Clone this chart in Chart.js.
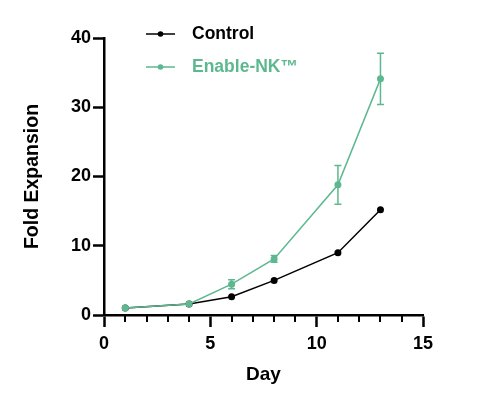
<!DOCTYPE html>
<html><head><meta charset="utf-8">
<script src="https://cdn.jsdelivr.net/npm/chart.js@4.4.1/dist/chart.umd.min.js"></script>
<style>html,body{margin:0;padding:0;background:#fff;overflow:hidden}canvas{display:block}</style>
</head><body>
<canvas id="c" width="487" height="407" style="width:487px;height:407px"></canvas>
<script>
const days = [1, 4, 6, 8, 11, 13];
const controlValues = [1.0, 1.6, 2.65, 5.0, 9.0, 15.2];
const enableValues = [1.0, 1.6, 4.45, 8.1, 18.8, 34.1];
const enableErrors = [0, 0, 0.65, 0.5, 2.8, 3.7];
const xTicks = [0, 5, 10, 15];
const xMinorTicks = [1, 2, 3, 4, 6, 7, 8, 9, 11, 12, 13, 14];
const yTicks = [0, 10, 20, 30, 40];
const seriesNames = ['Control', 'Enable-NK\u2122'];
const xTitle = 'Day';
const yTitle = 'Fold Expansion';

const BLACK = '#000000';
const GREEN = '#5db88f';
const FONT = '"Liberation Sans", Arial, Helvetica, sans-serif';

Chart.defaults.font.family = FONT;
Chart.defaults.color = BLACK;

const extras = {
  id: 'extras',
  afterDatasetsDraw(chart) {
    const ctx = chart.ctx;
    const xs = chart.scales.x, ys = chart.scales.y;
    // error bars
    ctx.save();
    ctx.strokeStyle = GREEN;
    ctx.lineWidth = 1.5;
    enableErrors.forEach((e, i) => {
      if (!e) return;
      const x = xs.getPixelForValue(days[i]);
      const yt = ys.getPixelForValue(enableValues[i] + e);
      const yb = ys.getPixelForValue(enableValues[i] - e);
      ctx.beginPath();
      ctx.moveTo(x, yt); ctx.lineTo(x, yb);
      ctx.moveTo(x - 3.5, yt); ctx.lineTo(x + 3.5, yt);
      ctx.moveTo(x - 3.5, yb); ctx.lineTo(x + 3.5, yb);
      ctx.stroke();
    });
    ctx.restore();
  },
  afterDraw(chart) {
    const ctx = chart.ctx;
    const xs = chart.scales.x;
    // minor x ticks
    ctx.save();
    ctx.strokeStyle = BLACK;
    ctx.lineWidth = 2;
    const y0 = chart.chartArea.bottom;
    xMinorTicks.forEach(v => {
      const x = Math.round(xs.getPixelForValue(v));
      ctx.beginPath();
      ctx.moveTo(x, y0); ctx.lineTo(x, y0 + 7);
      ctx.stroke();
    });
    // legend
    const items = [
      { name: seriesNames[0], color: BLACK, y: 34 },
      { name: seriesNames[1], color: GREEN, y: 67 }
    ];
    items.forEach(it => {
      ctx.strokeStyle = it.color;
      ctx.fillStyle = it.color;
      ctx.lineWidth = 1.5;
      ctx.beginPath();
      ctx.moveTo(146, it.y); ctx.lineTo(175, it.y);
      ctx.stroke();
      ctx.beginPath();
      ctx.arc(160.5, it.y, 2.8, 0, Math.PI * 2);
      ctx.fill();
      ctx.font = 'bold 17.5px ' + FONT;
      ctx.textBaseline = 'middle';
      ctx.textAlign = 'left';
      ctx.fillText(it.name, 192, it.y);
    });
    ctx.restore();
  }
};

new Chart(document.getElementById('c'), {
  type: 'line',
  data: {
    datasets: [
      {
        label: seriesNames[1],
        data: days.map((d, i) => ({ x: d, y: enableValues[i] })),
        borderColor: GREEN, backgroundColor: GREEN,
        borderWidth: 1.5, pointRadius: 3.5, pointBorderWidth: 0,
        pointBackgroundColor: GREEN, tension: 0, order: 0
      },
      {
        label: seriesNames[0],
        data: days.map((d, i) => ({ x: d, y: controlValues[i] })),
        borderColor: BLACK, backgroundColor: BLACK,
        borderWidth: 1.5, pointRadius: 3.5, pointBorderWidth: 0,
        pointBackgroundColor: BLACK, tension: 0, order: 1
      }
    ]
  },
  options: {
    responsive: false,
    animation: false,
    devicePixelRatio: 1,
    layout: { padding: { top: 38, right: 64, left: 0, bottom: 0 } },
    plugins: { legend: { display: false }, tooltip: { enabled: false } },
    scales: {
      x: {
        type: 'linear', min: 0, max: 15,
        afterBuildTicks: s => { s.ticks = xTicks.map(v => ({ value: v })); },
        afterFit: s => { s.height = 92; },
        border: { display: true, color: BLACK, width: 2.5 },
        grid: { drawOnChartArea: false, drawTicks: true, tickLength: 12, tickWidth: 2.5, tickColor: BLACK },
        ticks: { padding: 6, color: BLACK, font: { size: 18, weight: 'bold' }, maxRotation: 0 },
        title: { display: true, text: xTitle, color: BLACK, font: { size: 19, weight: 'bold' }, padding: { top: 0, bottom: 21 } }
      },
      y: {
        type: 'linear', min: 0, max: 40,
        afterBuildTicks: s => { s.ticks = yTicks.map(v => ({ value: v })); },
        afterFit: s => { s.width = 104; },
        border: { display: true, color: BLACK, width: 2.5 },
        grid: { drawOnChartArea: false, drawTicks: true, tickLength: 11, tickWidth: 2.5, tickColor: BLACK },
        ticks: { padding: 2, color: BLACK, font: { size: 18, weight: 'bold' } },
        title: { display: true, text: yTitle, color: BLACK, font: { size: 19.5, weight: 'bold' }, padding: { top: 21, bottom: 0 } }
      }
    }
  },
  plugins: [extras]
});
</script>
</body></html>
